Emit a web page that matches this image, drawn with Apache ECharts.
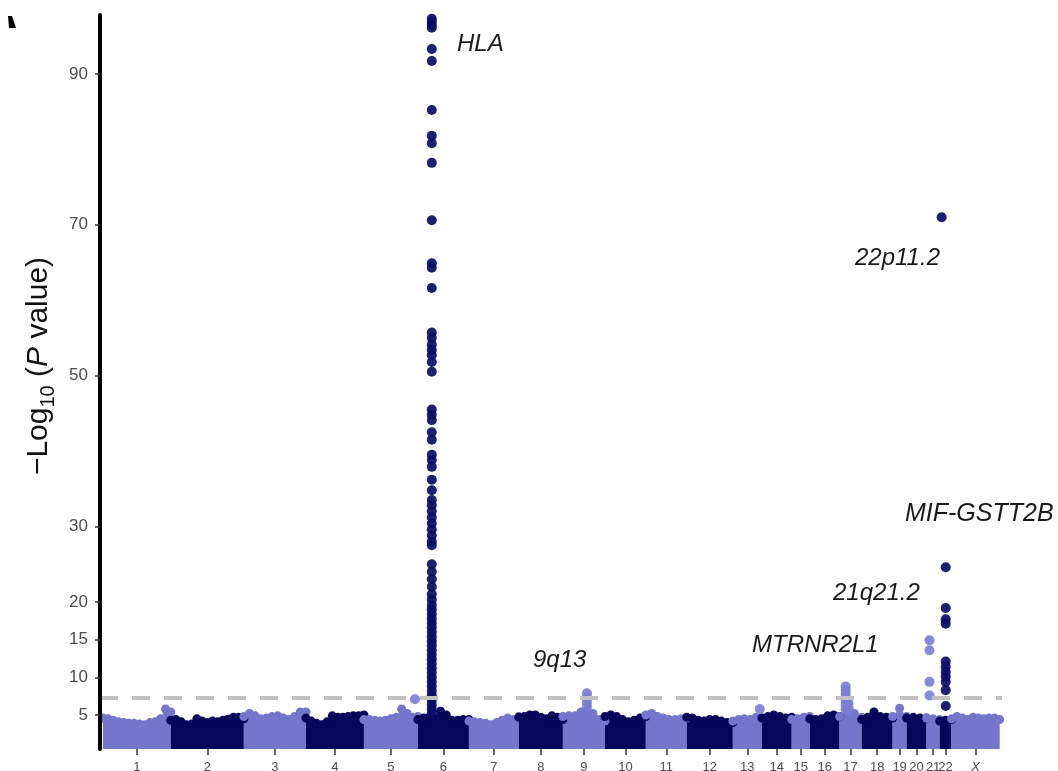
<!DOCTYPE html>
<html>
<head>
<meta charset="utf-8">
<script src="https://cdn.jsdelivr.net/npm/echarts@6/dist/echarts.min.js"></script>
<style>
html,body{margin:0;padding:0;background:#fff;}
#chart{width:1058px;height:771px;}
</style>
</head>
<body>
<div id="chart"></div>
<script>
// ---------------- DATA ----------------
const chromNames = ['1','2','3','4','5','6','7','8','9','10','11','12','13','14','15','16','17','18','19','20','21','22','X'];
// plotted span of each chromosome (Mb)
const chromSpanMb = [234,252,214,200,186,176,172,152,145,141,141,159,100,103,62,103,76,107,48,69,45,41,166];

// upper envelope of the dense cloud of points, evenly spaced along each chromosome (-log10 P)
const env_1  = [4.6,4.5,4.3,4.1,4.0,3.9,3.9,3.8,3.7,4.0,4.1,4.5,5.8,5.4];
const env_2  = [4.3,4.4,4.1,3.7,3.8,4.5,4.2,4.0,4.2,4.1,4.3,4.45,4.7,4.7,4.5];
const env_3  = [4.8,5.2,4.9,4.5,4.6,4.8,4.9,4.6,4.4,4.8,5.4,5.4];
const env_4  = [4.6,4.2,3.9,3.7,4.1,4.9,4.7,4.7,4.8,4.9,4.9,5.0];
const env_5  = [4.4,4.4,4.3,4.2,4.3,4.5,4.7,5.8,5.2,4.7,4.8];
const env_6  = [4.4,4.6,4.7,4.6,5.5,5.0,4.3,4.3,4.4,4.4];
const env_7  = [4.2,4.1,4.0,3.9,3.7,4.0,4.3,4.6,4.4,4.8];
const env_8  = [4.7,4.8,5.0,5.0,4.7,4.5,4.9,4.7,4.4];
const env_9  = [4.8,4.9,4.9,5.4,5.6,5.2,4.4,4.2];
const env_10 = [4.8,5.0,4.8,4.4,4.1,4.3,4.6,4.8];
const env_11 = [5.0,5.2,4.8,4.6,4.4,4.4,4.5,4.6];
const env_12 = [4.7,4.6,4.3,4.2,4.4,4.4,4.2,4.0,4.0];
const env_13 = [4.2,4.4,4.5,4.4,4.7,4.6];
const env_14 = [4.6,4.8,5.0,4.8,4.6,4.7];
const env_15 = [4.4,4.5,4.7,4.8];
const env_16 = [4.5,4.4,4.5,4.9,5.0,4.8];
const env_17 = [4.8,5.4,5.2,4.7];
const env_18 = [4.4,4.7,5.4,4.8,4.7,4.6];
const env_19 = [4.8,5.9,4.8];
const env_20 = [4.6,4.7,4.6,4.6];
const env_21 = [4.6,4.5,4.4];
const env_22 = [4.2,4.3,4.4];
const env_X  = [4.5,4.8,4.6,4.4,4.7,4.6,4.5,4.6,4.6,4.4];
const envelopeByChrom = [env_1,env_2,env_3,env_4,env_5,env_6,env_7,env_8,env_9,env_10,env_11,env_12,
  env_13,env_14,env_15,env_16,env_17,env_18,env_19,env_20,env_21,env_22,env_X];

// individual points standing out above the cloud
const peakChrom = ['5','6','9','13','17','17','21','22','22'];
const peakPosMb = [176, 48, 83, 93, 21, 31, 10, 7, 21];
const peak_chr5  = [7.1];
const peak_HLA   = [97.3,96.9,96.5,96.1,93.3,91.7,85.2,81.8,80.8,78.2,70.6,64.9,64.3,61.6,55.7,55.0,54.1,53.4,52.7,51.8,50.5,
  45.5,44.8,44.1,42.5,41.5,39.5,38.8,37.9,36.2,34.8,33.5,32.8,32.0,31.2,30.4,29.6,28.8,28.0,27.5,25.0,24.0,23.0,22.0,21.0,20.3,
  19.6,19.0,18.4,17.8,17.2,16.6,16.0,15.4,14.8,14.2,13.6,13.0,12.4,11.8,11.2,10.6,10.0,9.4,8.8,8.2,7.6,7.0,6.4,5.8,5.2];
const peak_9q13  = [7.9,7.3,6.7,6.1];
const peak_chr13 = [5.8];
const peak_MTRNR2L1_a = [8.8,8.3,7.8,7.3,6.8,6.3,5.8];
const peak_MTRNR2L1_b = [6.6,6.0,5.5];
const peak_21q21 = [14.9,13.6,9.4,7.6];
const peak_22p11 = [71.0];
const peak_MIF   = [24.6,19.2,17.7,17.1,12.1,11.4,10.7,10.1,9.4,8.3,6.2];
const peakValues = [peak_chr5,peak_HLA,peak_9q13,peak_chr13,peak_MTRNR2L1_a,peak_MTRNR2L1_b,peak_21q21,peak_22p11,peak_MIF];

const yTickValues = [5,10,15,20,30,50,70,90];
const significanceLine = 7.3;

const annotations = ['HLA','22p11.2','MIF-GSTT2B','21q21.2','MTRNR2L1','9q13'];

// ---------------- BUILD ----------------
const LIGHT = '#7376ca';
const DARK = '#06065a';
const FONT = 'Liberation Sans, Arial, Helvetica, sans-serif';

const starts = [];
let acc = 0;
chromSpanMb.forEach(s => { starts.push(acc); acc += s; });
const centers = chromSpanMb.map((s, i) => starts[i] + s / 2);

const series = [];
envelopeByChrom.forEach((vals, i) => {
  const col = i % 2 === 0 ? LIGHT : DARK;
  const n = vals.length;
  series.push({
    type: 'line',
    data: vals.map((v, k) => [starts[i] + chromSpanMb[i] * k / (n - 1), v]),
    symbol: 'circle', symbolSize: 9, showSymbol: true,
    lineStyle: { width: 0 },
    itemStyle: { color: col, borderWidth: 0 },
    areaStyle: { color: col, opacity: 1, origin: 'start' },
    silent: true, z: 2, animation: false
  });
});

const lightPts = [], darkPts = [];
peakChrom.forEach((c, j) => {
  const i = chromNames.indexOf(c);
  const x = starts[i] + peakPosMb[j];
  peakValues[j].forEach(v => (i % 2 === 0 ? lightPts : darkPts).push([x, v]));
});
series.push({
  type: 'scatter', data: lightPts, symbolSize: 10,
  itemStyle: { color: '#7a7dd4', opacity: 0.9 }, z: 3, silent: true, animation: false
});
series.push({
  type: 'scatter', data: darkPts, symbolSize: 10,
  itemStyle: { color: '#0b0b68', opacity: 0.92 }, z: 3, silent: true, animation: false
});
series.push({
  type: 'scatter', data: [], z: 6, silent: true, animation: false,
  markLine: {
    silent: true, symbol: 'none', animation: false,
    label: { show: false },
    lineStyle: { color: '#c2c2c2', width: 4, type: [18, 14] },
    data: [{ yAxis: significanceLine }]
  }
});

const chart = echarts.init(document.getElementById('chart'), null, { renderer: 'canvas' });
chart.setOption({
  backgroundColor: '#ffffff',
  animation: false,
  textStyle: { fontFamily: FONT },
  grid: { left: 100, right: 56, top: 15, bottom: 22, containLabel: false, outerBoundsMode: 'none' },
  xAxis: {
    type: 'value', min: -10, max: acc + 8,
    axisLine: { show: false, onZero: false },
    splitLine: { show: false },
    axisTick: { show: true, customValues: centers, length: 6, lineStyle: { color: '#333', width: 1.5 } },
    axisLabel: {
      customValues: centers, fontSize: 13, color: '#4d4d4d', margin: 12, fontFamily: FONT,
      formatter: v => {
        let best = 0;
        centers.forEach((c, i) => { if (Math.abs(c - v) < Math.abs(centers[best] - v)) best = i; });
        const nm = chromNames[best];
        return nm === 'X' ? '{it|X}' : nm;
      },
      rich: { it: { fontStyle: 'italic', fontSize: 13, color: '#4d4d4d', fontFamily: FONT } }
    }
  },
  yAxis: {
    type: 'value', min: 0.5, max: 97.8, z: 10,
    axisLine: { show: true, onZero: false, lineStyle: { color: '#000', width: 4 } },
    splitLine: { show: false },
    axisTick: { show: true, customValues: yTickValues, length: 5, lineStyle: { color: '#333', width: 1.5 } },
    axisLabel: { customValues: yTickValues, fontSize: 17, color: '#4d4d4d', margin: 12, fontFamily: FONT }
  },
  graphic: [
    { type: 'polygon', shape: { points: [[8,16],[12,16],[16,28],[9,28]] }, style: { fill: '#000' } },
    {
      type: 'text', x: 39, y: 366, rotation: Math.PI / 2,
      style: {
        text: '{a|−Log}{s|10}{a| (}{p|P}{a| value)}',
        align: 'center', verticalAlign: 'middle', fill: '#111',
        rich: {
          a: { fontSize: 30, fontFamily: FONT, fill: '#111', lineHeight: 38 },
          s: { fontSize: 20, fontFamily: FONT, fill: '#111', lineHeight: 38, verticalAlign: 'bottom' },
          p: { fontSize: 30, fontFamily: FONT, fill: '#111', fontStyle: 'italic', lineHeight: 38 }
        }
      }
    },
    { type: 'text', x: 457, y: 44, style: { text: annotations[0], font: 'italic 24px ' + FONT, fill: '#1a1a1a', verticalAlign: 'middle' } },
    { type: 'text', x: 855, y: 258, style: { text: annotations[1], font: 'italic 24px ' + FONT, fill: '#1a1a1a', verticalAlign: 'middle' } },
    { type: 'text', x: 905, y: 514, style: { text: annotations[2], font: 'italic 25px ' + FONT, fill: '#1a1a1a', verticalAlign: 'middle' } },
    { type: 'text', x: 833, y: 593, style: { text: annotations[3], font: 'italic 24px ' + FONT, fill: '#1a1a1a', verticalAlign: 'middle' } },
    { type: 'text', x: 752, y: 645, style: { text: annotations[4], font: 'italic 24px ' + FONT, fill: '#1a1a1a', verticalAlign: 'middle' } },
    { type: 'text', x: 533, y: 660, style: { text: annotations[5], font: 'italic 24px ' + FONT, fill: '#1a1a1a', verticalAlign: 'middle' } }
  ],
  series: series
});
</script>
</body>
</html>
